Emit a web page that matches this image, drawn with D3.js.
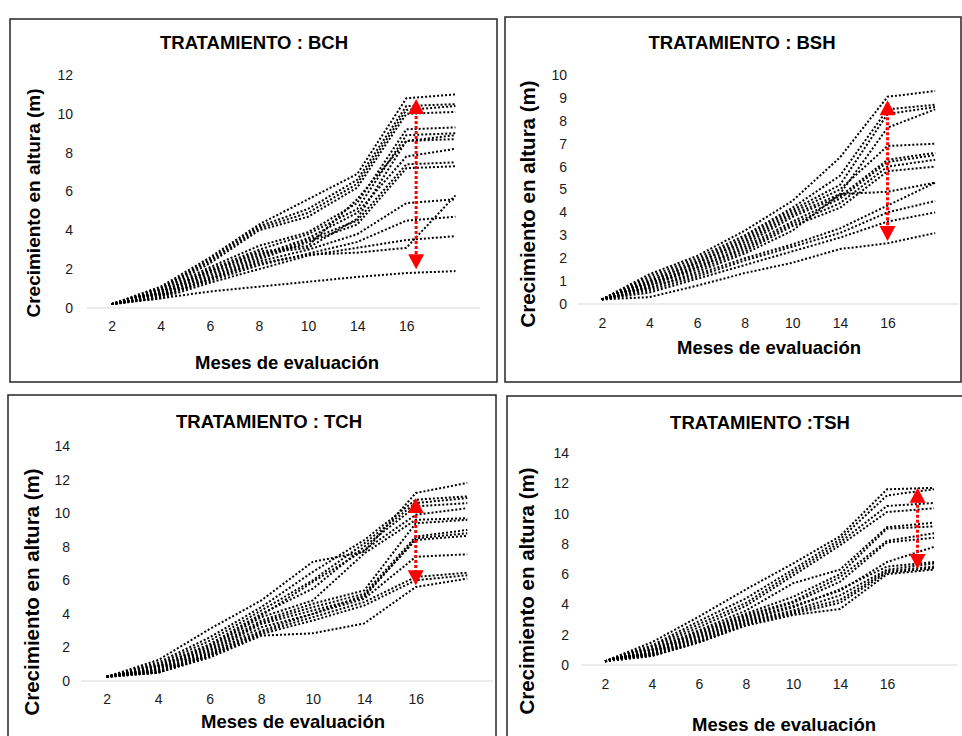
<!DOCTYPE html>
<html>
<head>
<meta charset="utf-8">
<script src="https://cdn.jsdelivr.net/npm/d3@7"></script>
<style>
  body { margin: 0; background: #fff; }
  text { font-family: "Liberation Sans", Arial, sans-serif; }
</style>
</head>
<body>
<svg width="962" height="736"></svg>
<script>
  // months of evaluation (the last point has no label on the axis)
  const months = ['2', '4', '6', '8', '10', '14', '16', '18'];
  const monthLabels = ['2', '4', '6', '8', '10', '14', '16', ''];

  // tree heights (m), one row per tree
  const bch = [
    [0.2, 1.1, 2.6, 4.3, 5.6, 6.9, 10.8, 11.0],
    [0.2, 1.0, 2.5, 4.2, 5.1, 6.6, 10.4, 10.5],
    [0.2, 1.0, 2.4, 4.1, 4.9, 6.4, 10.2, 10.4],
    [0.2, 0.9, 2.3, 4.0, 4.7, 6.2, 10.0, 10.1],
    [0.2, 0.9, 2.1, 3.2, 3.9, 5.4, 9.2, 9.3],
    [0.2, 0.8, 2.0, 3.0, 3.8, 5.1, 8.9, 9.0],
    [0.2, 0.8, 1.9, 2.9, 3.2, 5.6, 8.6, 8.9],
    [0.2, 0.8, 1.9, 2.8, 3.1, 4.6, 8.6, 8.7],
    [0.2, 0.7, 1.8, 2.7, 3.6, 4.9, 7.8, 8.2],
    [0.2, 0.7, 1.7, 2.6, 3.5, 4.5, 7.4, 7.5],
    [0.2, 0.7, 1.6, 2.5, 3.4, 4.3, 7.2, 7.3],
    [0.2, 0.6, 1.5, 2.3, 2.75, 2.85, 3.1, 5.8],
    [0.2, 0.6, 1.5, 2.4, 3.0, 3.8, 5.4, 5.6],
    [0.2, 0.6, 1.4, 2.2, 2.8, 3.4, 4.5, 4.7],
    [0.2, 0.5, 1.3, 2.0, 2.7, 3.1, 3.5, 3.7],
    [0.2, 0.5, 0.85, 1.1, 1.35, 1.6, 1.8, 1.9]
  ];

  const bsh = [
    [0.2, 1.3, 2.1, 3.2, 4.5, 6.4, 9.05, 9.3],
    [0.2, 1.2, 2.0, 3.0, 4.2, 5.6, 8.5, 8.7],
    [0.2, 1.1, 1.9, 2.9, 4.1, 5.2, 8.3, 8.6],
    [0.2, 1.0, 1.8, 2.7, 3.9, 4.8, 7.7, 8.5],
    [0.2, 1.0, 1.8, 2.8, 4.0, 5.0, 6.9, 7.0],
    [0.2, 0.9, 1.7, 2.6, 3.8, 4.7, 6.3, 6.6],
    [0.2, 0.9, 1.6, 2.5, 3.6, 4.6, 6.2, 6.5],
    [0.2, 0.8, 1.6, 2.4, 3.5, 4.4, 6.0, 6.3],
    [0.2, 0.8, 1.5, 2.3, 3.4, 4.2, 5.8, 6.0],
    [0.2, 0.7, 1.4, 2.2, 3.2, 4.8, 4.9, 5.3],
    [0.2, 0.7, 1.3, 2.0, 2.6, 3.3, 4.3, 5.3],
    [0.2, 0.6, 1.2, 1.9, 2.5, 3.1, 4.0, 4.5],
    [0.2, 0.5, 1.1, 1.7, 2.3, 2.9, 3.6, 4.0],
    [0.2, 0.3, 0.8, 1.35, 1.8, 2.4, 2.65, 3.1]
  ];

  const tch = [
    [0.25, 1.25, 3.1, 4.8, 7.1, 7.7, 11.2, 11.8],
    [0.25, 1.1, 2.6, 4.4, 6.5, 8.4, 10.8, 11.0],
    [0.25, 1.0, 2.4, 4.2, 6.0, 8.2, 10.6, 10.9],
    [0.25, 0.9, 2.2, 4.0, 5.5, 8.0, 10.4, 10.6],
    [0.25, 0.9, 2.1, 3.9, 5.9, 7.8, 9.9, 10.3],
    [0.25, 0.8, 2.0, 3.8, 4.8, 7.6, 9.6, 9.7],
    [0.25, 0.8, 1.9, 3.6, 4.6, 5.4, 9.4, 9.6],
    [0.25, 0.7, 1.8, 3.5, 4.4, 5.2, 8.6, 9.0],
    [0.25, 0.7, 1.7, 3.4, 4.2, 5.0, 8.5, 8.8],
    [0.25, 0.6, 1.6, 3.2, 4.0, 5.1, 8.4, 8.65],
    [0.25, 0.6, 1.6, 3.0, 4.0, 4.9, 7.4, 7.55],
    [0.25, 0.5, 1.5, 2.9, 3.8, 4.7, 6.2, 6.45],
    [0.25, 0.5, 1.5, 2.8, 3.6, 4.5, 6.0, 6.3],
    [0.25, 0.5, 1.4, 2.7, 2.84, 3.43, 5.6, 6.1]
  ];

  const tsh = [
    [0.25, 1.5, 3.2, 5.0, 6.7, 8.5, 11.6, 11.7],
    [0.25, 1.3, 2.9, 4.4, 6.3, 8.3, 11.2, 11.6],
    [0.25, 1.2, 2.7, 4.1, 6.1, 8.1, 10.5, 10.7],
    [0.25, 1.1, 2.5, 3.9, 5.9, 7.9, 10.1, 10.35],
    [0.25, 1.0, 2.3, 3.6, 5.4, 6.3, 9.1, 9.4],
    [0.25, 1.0, 2.2, 3.4, 4.5, 6.0, 9.0, 9.15],
    [0.25, 0.9, 2.1, 3.3, 4.2, 5.8, 8.2, 8.7],
    [0.25, 0.9, 2.0, 3.2, 4.1, 5.5, 8.1, 8.4],
    [0.25, 0.8, 1.9, 3.1, 3.9, 4.9, 6.8, 7.8],
    [0.25, 0.8, 1.8, 3.0, 3.8, 5.0, 6.5, 6.8],
    [0.25, 0.7, 1.7, 2.9, 3.6, 4.6, 6.3, 6.7],
    [0.25, 0.7, 1.6, 2.8, 3.5, 4.3, 6.2, 6.5],
    [0.25, 0.6, 1.5, 2.7, 3.4, 4.1, 6.1, 6.4],
    [0.25, 0.6, 1.5, 2.6, 3.3, 3.7, 6.0, 6.3]
  ];

  const titles = ['TRATAMIENTO : BCH', 'TRATAMIENTO : BSH', 'TRATAMIENTO : TCH', 'TRATAMIENTO :TSH'];
  const yMaxes = [12, 10, 14, 14];
  const ySteps = [2, 1, 2, 2];
  // red range arrows: [position in month steps, top value, bottom value]
  const arrows = [
    [6.2, 10.76, 2.0],
    [6.0, 8.9, 2.75],
    [6.0, 10.9, 5.7],
    [6.65, 11.7, 6.34]
  ];

  const xAxisLabel = 'Meses de evaluación';
  const yAxisLabel = 'Crecimiento en altura (m)';

  const svg = d3.select('svg');

  // layout of the four boxes
  const layouts = [
    { box: [10, 19, 497, 382], x: [87, 480], y: [308, 75], title: [254, 43], tickY: 326, yLabelX: 73, xTitle: [287, 363], yTitle: [33, 203], yTitleSize: 19 },
    { box: [505, 17, 961, 382], x: [578, 959], y: [304, 75], title: [742, 43], tickY: 323, yLabelX: 567, xTitle: [769, 348], yTitle: [528, 204], yTitleSize: 20.5 },
    { box: [8, 395, 496, 745], x: [81, 493], y: [681, 446], title: [269, 422], tickY: 699, yLabelX: 70, xTitle: [293, 722], yTitle: [32, 592], yTitleSize: 20.5 },
    { box: [507, 396, 970, 745], x: [581.5, 957.5], y: [665, 453], title: [760, 423], tickY: 684, yLabelX: 569, xTitle: [784, 725], yTitle: [527, 591], yTitleSize: 20.5 }
  ];

  const allSeries = [bch, bsh, tch, tsh];

  const render = (i) => {
    const L = layouts[i];
    const series = allSeries[i];
    const g = svg.append('g');

    g.append('rect')
      .attr('x', L.box[0]).attr('y', L.box[1])
      .attr('width', L.box[2] - L.box[0]).attr('height', L.box[3] - L.box[1])
      .attr('fill', '#fff').attr('stroke', '#262626').attr('stroke-width', 1.5);

    const xScale = d3.scalePoint()
      .domain(months)
      .range(L.x)
      .padding(0.5);

    const yScale = d3.scaleLinear()
      .domain([0, yMaxes[i]])
      .range(L.y);

    // baseline
    g.append('line')
      .attr('x1', L.x[0]).attr('x2', L.x[1])
      .attr('y1', yScale(0)).attr('y2', yScale(0))
      .attr('stroke', '#d9d9d9').attr('stroke-width', 1);

    const xAxis = d3.axisBottom(xScale)
      .tickSize(0)
      .tickPadding(0)
      .tickFormat((d, k) => monthLabels[k]);

    const xAxisG = g.append('g')
      .attr('transform', `translate(0,${L.tickY})`)
      .call(xAxis);
    xAxisG.select('.domain').remove();
    xAxisG.selectAll('text')
      .attr('y', 0).attr('dy', '0.35em')
      .attr('fill', '#1a1a1a')
      .style('font-size', '14px')
      .style('font-family', '"Liberation Sans", Arial, sans-serif');

    const yAxis = d3.axisLeft(yScale)
      .tickValues(d3.range(0, yMaxes[i] + 0.001, ySteps[i]))
      .tickSize(0)
      .tickPadding(0);

    const yAxisG = g.append('g')
      .attr('transform', `translate(${L.yLabelX},0)`)
      .call(yAxis);
    yAxisG.select('.domain').remove();
    yAxisG.selectAll('text')
      .attr('x', 0)
      .attr('fill', '#1a1a1a')
      .style('font-size', '14px')
      .style('font-family', '"Liberation Sans", Arial, sans-serif');

    const lineGenerator = d3.line()
      .x((d, k) => xScale(months[k]))
      .y(d => yScale(d));

    g.selectAll('.line-path')
      .data(series)
      .enter().append('path')
      .attr('class', 'line-path')
      .attr('d', lineGenerator)
      .attr('fill', 'none')
      .attr('stroke', '#000')
      .attr('stroke-width', 2)
      .attr('stroke-dasharray', '2 2');

    // red arrow showing the spread at the end
    const [pos, top, bottom] = arrows[i];
    const ax = xScale(months[0]) + pos * xScale.step();
    const yt = yScale(top);
    const yb = yScale(bottom);
    g.append('line')
      .attr('x1', ax).attr('x2', ax)
      .attr('y1', yt + 12).attr('y2', yb - 12)
      .attr('stroke', '#ff0000')
      .attr('stroke-width', 3)
      .attr('stroke-dasharray', '3 2');
    g.append('path')
      .attr('d', `M${ax},${yt} L${ax - 8},${yt + 15} L${ax + 8},${yt + 15} Z`)
      .attr('fill', '#ff0000');
    g.append('path')
      .attr('d', `M${ax},${yb} L${ax - 8},${yb - 15} L${ax + 8},${yb - 15} Z`)
      .attr('fill', '#ff0000');

    g.append('text')
      .attr('class', 'title')
      .attr('x', L.title[0]).attr('y', L.title[1])
      .attr('dy', '0.35em')
      .attr('text-anchor', 'middle')
      .style('font-size', '18.5px')
      .style('font-weight', 'bold')
      .attr('fill', '#000')
      .text(titles[i]);

    g.append('text')
      .attr('class', 'axis-label')
      .attr('x', L.xTitle[0]).attr('y', L.xTitle[1])
      .attr('dy', '0.35em')
      .attr('text-anchor', 'middle')
      .style('font-size', '18.5px')
      .style('font-weight', 'bold')
      .attr('fill', '#000')
      .text(xAxisLabel);

    g.append('text')
      .attr('class', 'axis-label')
      .attr('transform', `translate(${L.yTitle[0]},${L.yTitle[1]}) rotate(-90)`)
      .attr('dy', '0.35em')
      .attr('text-anchor', 'middle')
      .style('font-size', L.yTitleSize + 'px')
      .style('font-weight', 'bold')
      .attr('fill', '#000')
      .text(yAxisLabel);
  };

  [0, 1, 2, 3].forEach(render);
</script>
</body>
</html>
